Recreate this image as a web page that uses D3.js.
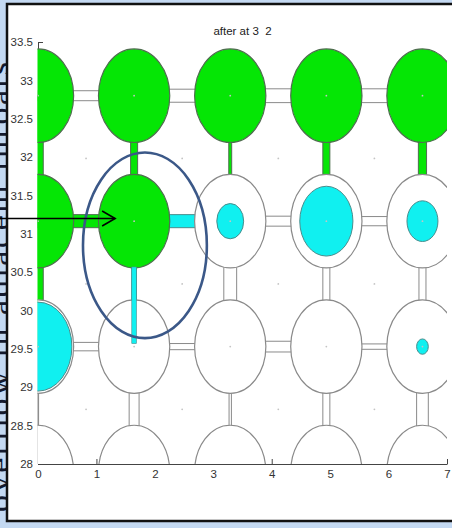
<!DOCTYPE html>
<html>
<head>
<meta charset="utf-8">
<script src="https://cdn.jsdelivr.net/npm/d3@7"></script>
<style>
  html, body { margin: 0; padding: 0; background: #c4d9f2; }
  svg { display: block; }
</style>
</head>
<body>
<div id="chart"></div>
<script>
// axis ticks
const xTicks = [0, 1, 2, 3, 4, 5, 6, 7];
const yTicks = [28, 28.5, 29, 29.5, 30, 30.5, 31, 31.5, 32, 32.5, 33, 33.5];

// pore grid (data units)
const poreX = [0, 1.645, 3.29, 4.935, 6.58];
const poreY = [32.8, 31.165, 29.53, 27.895];
const poreR = 0.61;

// g = full of green phase, w = empty
const poreFill = [
  ['g', 'g', 'g', 'g', 'g'],
  ['g', 'g', 'w', 'w', 'w'],
  ['w', 'w', 'w', 'w', 'w'],
  ['w', 'w', 'w', 'w', 'w'],
];
// radius of cyan blob inside each pore (0 = none)
const cyanR = [
  [0, 0, 0, 0, 0],
  [0, 0, 0.23, 0.455, 0.265],
  [0.58, 0, 0, 0, 0.1],
  [0, 0, 0, 0, 0],
];

// horizontal throats, per row, between column i and i+1 (half width)
const hThroatR = [
  [0.065, 0.085, 0.09, 0.09],
  [0.085, 0.085, 0.065, 0.06],
  [0.055, 0.04, 0.07, 0.035],
  [0.065, 0.065, 0.065, 0.065],
];
const hThroatFill = [
  ['w', 'w', 'w', 'w'],
  ['g', 'c', 'w', 'w'],
  ['w', 'w', 'w', 'w'],
  ['w', 'w', 'w', 'w'],
];

// vertical throats, between row j and j+1, per column (half width)
const vThroatR = [
  [0.09, 0.06, 0.025, 0.06, 0.07],
  [0.09, 0.04, 0.11, 0.06, 0.06],
  [0.01, 0.085, 0.02, 0.06, 0.1],
];
const vThroatFill = [
  ['g', 'g', 'g', 'g', 'g'],
  ['g', 'c', 'w', 'w', 'w'],
  ['w', 'w', 'w', 'w', 'w'],
];

// cyan film running down from pore (row 1, col 1) into the pore below
const cyanFingers = [{ row: 1, col: 1, r: 0.04, to: 29.57 }];

// annotations (data units)
const noteEllipse = { cx: 1.83, cy: 30.85, rx: 1.06, ry: 1.21 };
const noteArrow = { x1: -0.65, x2: 1.32, y: 31.2 };

const COLORS = {
  g: '#05e605',
  c: '#10f0f0',
  w: '#ffffff',
};
const STROKES = {
  g: '#4f6f4f',
  c: '#4a8c8c',
  w: '#8a8a8a',
};

const WIDTH = 452;
const HEIGHT = 528;

const svg = d3
  .select('#chart')
  .append('svg')
  .attr('width', WIDTH)
  .attr('height', HEIGHT);

// slide text on the left margin (mostly hidden behind the panel)
svg
  .append('text')
  .attr('transform', 'translate(10,512) rotate(-90)')
  .attr('font-family', 'Liberation Serif, DejaVu Serif, serif')
  .attr('font-size', 34)
  .attr('fill', '#141a2e')
  .attr('textLength', 450)
  .attr('lengthAdjust', 'spacing')
  .text('overflow in adjacent throats');

// white panel
svg
  .append('rect')
  .attr('x', 7)
  .attr('y', 4)
  .attr('width', 470)
  .attr('height', 517)
  .attr('fill', '#fff')
  .attr('stroke', '#111')
  .attr('stroke-width', 2.5);

const x = d3.scaleLinear().domain([0, 7]).range([38, 447]);
const y = d3.scaleLinear().domain([28, 33.5]).range([464, 42]);

const rx = (r) => x(r) - x(0);
const ry = (r) => y(28) - y(28 + r);

// title
svg
  .append('text')
  .attr('x', 242.5)
  .attr('y', 35)
  .attr('text-anchor', 'middle')
  .attr('font-family', 'Liberation Sans, Arial, sans-serif')
  .attr('font-size', 11.5)
  .attr('fill', '#222')
  .attr('xml:space', 'preserve')
  .style('white-space', 'pre')
  .text('after at 3  2');

// axes go underneath the network
const xAxis = d3
  .axisBottom(x)
  .tickValues(xTicks)
  .tickSizeInner(-5)
  .tickSizeOuter(0)
  .tickPadding(6)
  .tickFormat(d3.format('d'));
const yAxis = d3
  .axisLeft(y)
  .tickValues(yTicks)
  .tickSizeInner(-5)
  .tickSizeOuter(0)
  .tickPadding(5)
  .tickFormat(d3.format('~g'));

function styleAxis(g) {
  g.select('.domain').attr('stroke', '#444');
  g.selectAll('.tick line').attr('stroke', '#444');
  g.selectAll('.tick text')
    .attr('font-family', 'Liberation Sans, Arial, sans-serif')
    .attr('font-size', 11.5)
    .attr('fill', '#333');
}

svg.append('g').attr('transform', `translate(0,${y(28)})`).call(xAxis).call(styleAxis);
svg.append('g').attr('transform', `translate(${x(0)},0)`).call(yAxis).call(styleAxis);

svg
  .append('clipPath')
  .attr('id', 'plot-clip')
  .append('rect')
  .attr('x', x(0) - 0.5)
  .attr('y', y(33.5))
  .attr('width', x(7) - x(0) + 0.5)
  .attr('height', y(28) - y(33.5));

const net = svg.append('g').attr('clip-path', 'url(#plot-clip)');

// throats first, pores cover their ends
const hThroats = [];
hThroatR.forEach((row, j) =>
  row.forEach((r, i) => hThroats.push({ x0: poreX[i], x1: poreX[i + 1], y: poreY[j], r, f: hThroatFill[j][i] }))
);
const vThroats = [];
vThroatR.forEach((row, j) =>
  row.forEach((r, i) => vThroats.push({ x: poreX[i], y0: poreY[j], y1: poreY[j + 1], r, f: vThroatFill[j][i] }))
);

net
  .append('g')
  .selectAll('rect')
  .data(hThroats)
  .join('rect')
  .attr('x', (d) => x(d.x0))
  .attr('width', (d) => x(d.x1) - x(d.x0))
  .attr('y', (d) => y(d.y + d.r))
  .attr('height', (d) => y(d.y - d.r) - y(d.y + d.r))
  .attr('fill', (d) => COLORS[d.f])
  .attr('stroke', (d) => STROKES[d.f])
  .attr('stroke-width', 1);

net
  .append('g')
  .selectAll('rect')
  .data(vThroats)
  .join('rect')
  .attr('x', (d) => x(d.x - d.r))
  .attr('width', (d) => x(d.x + d.r) - x(d.x - d.r))
  .attr('y', (d) => y(d.y0))
  .attr('height', (d) => y(d.y1) - y(d.y0))
  .attr('fill', (d) => COLORS[d.f])
  .attr('stroke', (d) => STROKES[d.f])
  .attr('stroke-width', 1);

// pores
const pores = [];
poreFill.forEach((row, j) =>
  row.forEach((f, i) => pores.push({ x: poreX[i], y: poreY[j], f, c: cyanR[j][i] }))
);

net
  .append('g')
  .selectAll('ellipse')
  .data(pores)
  .join('ellipse')
  .attr('cx', (d) => x(d.x))
  .attr('cy', (d) => y(d.y))
  .attr('rx', rx(poreR))
  .attr('ry', ry(poreR))
  .attr('fill', (d) => COLORS[d.f])
  .attr('stroke', (d) => STROKES[d.f])
  .attr('stroke-width', 1.2);

net
  .append('g')
  .selectAll('ellipse')
  .data(pores.filter((d) => d.c > 0))
  .join('ellipse')
  .attr('cx', (d) => x(d.x))
  .attr('cy', (d) => y(d.y))
  .attr('rx', (d) => rx(d.c))
  .attr('ry', (d) => ry(d.c))
  .attr('fill', COLORS.c)
  .attr('stroke', STROKES.c)
  .attr('stroke-width', 1);

net
  .append('g')
  .selectAll('rect')
  .data(cyanFingers)
  .join('rect')
  .attr('x', (d) => x(poreX[d.col] - d.r))
  .attr('width', (d) => x(poreX[d.col] + d.r) - x(poreX[d.col] - d.r))
  .attr('y', (d) => y(poreY[d.row] - poreR) - 1)
  .attr('height', (d) => y(d.to) - y(poreY[d.row] - poreR) + 1)
  .attr('fill', COLORS.c)
  .attr('stroke', STROKES.c)
  .attr('stroke-width', 0.6);

// faint centre markers of pores and of the solid grains
const grains = [];
for (let j = 0; j < poreY.length - 1; j++) {
  for (let i = 0; i < poreX.length - 1; i++) {
    grains.push({ x: (poreX[i] + poreX[i + 1]) / 2, y: (poreY[j] + poreY[j + 1]) / 2 });
  }
}
net
  .append('g')
  .selectAll('circle')
  .data(pores.concat(grains))
  .join('circle')
  .attr('cx', (d) => x(d.x))
  .attr('cy', (d) => y(d.y))
  .attr('r', 0.9)
  .attr('fill', '#c4c4c4');

// annotation: blue ellipse and arrow
svg
  .append('ellipse')
  .attr('cx', x(noteEllipse.cx))
  .attr('cy', y(noteEllipse.cy))
  .attr('rx', rx(noteEllipse.rx))
  .attr('ry', ry(noteEllipse.ry))
  .attr('fill', 'none')
  .attr('stroke', '#3b5888')
  .attr('stroke-width', 2.6);

const ax2 = x(noteArrow.x2);
const ay = y(noteArrow.y);
svg
  .append('line')
  .attr('x1', x(noteArrow.x1))
  .attr('x2', ax2)
  .attr('y1', ay)
  .attr('y2', ay)
  .attr('stroke', '#000')
  .attr('stroke-width', 1.6);
svg
  .append('path')
  .attr('d', `M${ax2 - 13},${ay - 7.5}L${ax2},${ay}L${ax2 - 13},${ay + 7.5}`)
  .attr('fill', 'none')
  .attr('stroke', '#000')
  .attr('stroke-width', 1.6);
</script>
</body>
</html>
